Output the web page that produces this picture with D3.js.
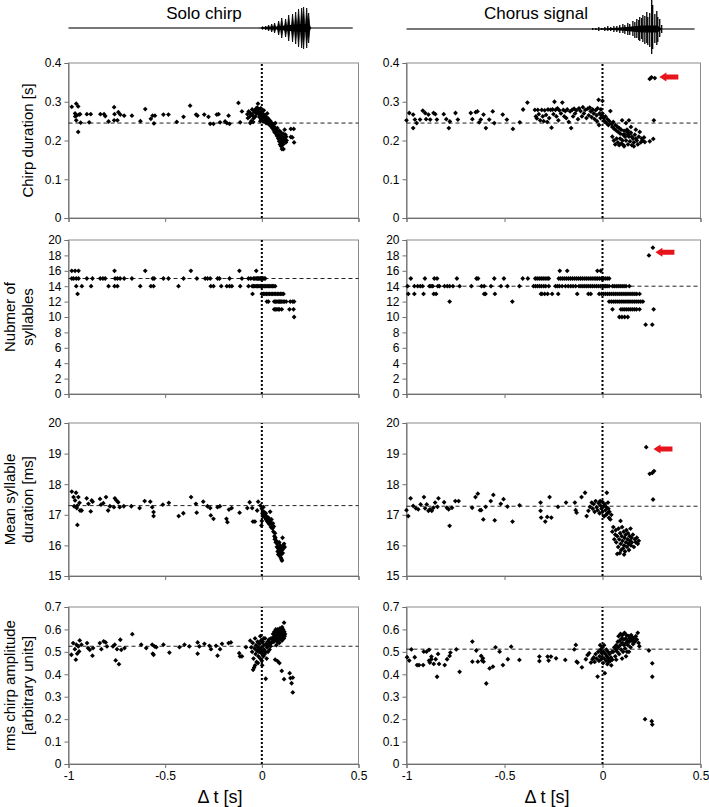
<!DOCTYPE html>
<html><head><meta charset="utf-8">
<script src="https://cdn.jsdelivr.net/npm/d3@7"></script>
<style>body{margin:0;background:#fff}svg{display:block;font-family:Arial,"Liberation Sans",sans-serif}</style>
</head><body><svg id="c" width="709" height="807"></svg>
<script>
// ---------------- DATA ----------------
const colTitles = ["Solo chirp", "Chorus signal"];
const rowLabels = [["Chirp duration [s]"], ["Nubmer of", "syllables"], ["Mean syllable", "duration [ms]"], ["rms chirp amplitude", "[arbitrary units]"]];
const xLabel = "\u0394 t [s]";
const xDomain = [-1, 0.5];
const xTicks = [-1, -0.5, 0, 0.5];
const xTickLabels = ["-1", "-0.5", "0", "0.5"];
const yDomains = [[0, 0.4], [0, 20], [15, 20], [0, 0.7]];
const yTicks = [[0, 0.1, 0.2, 0.3, 0.4], [0, 2, 4, 6, 8, 10, 12, 14, 16, 18, 20], [15, 16, 17, 18, 19, 20], [0, 0.1, 0.2, 0.3, 0.4, 0.5, 0.6, 0.7]];
const yTickLabels = [["0", "0.1", "0.2", "0.3", "0.4"], ["0", "2", "4", "6", "8", "10", "12", "14", "16", "18", "20"], ["15", "16", "17", "18", "19", "20"], ["0", "0.1", "0.2", "0.3", "0.4", "0.5", "0.6", "0.7"]];
const soloRef = [0.245, 15, 17.3, 0.525];
const chorusRef = [0.245, 14, 17.28, 0.512];
// arrows (tip position, data units) in chorus column, rows 0..2
const chorusArrows = [[0, 0.29, 0.364], [1, 0.27, 18.4], [2, 0.26, 19.15]];

// waveforms: [dt, amplitude]
const waveSpan = [-1, 0.47];
const soloWave = [[0.004,1.5],[0.02,2],[0.035,3],[0.051,4],[0.066,5],[0.087,7],[0.103,10],[0.123,9],[0.139,13],[0.159,14],[0.175,16],[0.19,19],[0.206,20],[0.216,21],[0.232,20],[0.242,15]];
const soloCore = [[-0.02,0],[0.05,1],[0.12,2.5],[0.2,4],[0.245,4],[0.255,0]];
const chorusWave = [[-0.05,1,1],[-0.034,1,1],[-0.019,2,2],[-0.004,1,1],[0.012,2,2],[0.027,3,2],[0.042,2,2],[0.058,3,3],[0.073,3,3],[0.088,4,4],[0.104,5,4],[0.114,4,5],[0.129,6,6],[0.139,5,6],[0.155,8,7],[0.165,7,9],[0.175,10,9],[0.185,9,11],[0.19,12,12],[0.2,11,10],[0.206,14,13],[0.216,13,15],[0.226,17,14],[0.231,12,16],[0.241,16,18],[0.251,29,25],[0.256,24,20],[0.267,15,14],[0.277,18,16],[0.282,12,13],[0.292,10,8],[0.302,4,4]];
const chorusCore = [[-0.06,0],[0.05,1],[0.12,2],[0.2,3.5],[0.28,3.5],[0.305,0]];

// Panel A: solo chirp duration [dt, s]
const soloDuration = [[-0.983,0.287],[-0.966,0.27],[-0.96,0.295],[-0.95,0.288],[-0.957,0.265],[-0.945,0.267],[-0.96,0.252],[-0.95,0.222],[-0.937,0.246],[-0.94,0.268],[-0.965,0.262],
[-0.905,0.268],[-0.885,0.268],[-0.893,0.247],[-0.835,0.268],[-0.816,0.268],[-0.81,0.263],[-0.793,0.249],[-0.764,0.286],[-0.762,0.268],[-0.764,0.252],[-0.747,0.252],[-0.742,0.273],[-0.732,0.267],[-0.712,0.264],
[-0.672,0.264],[-0.628,0.25],[-0.603,0.281],[-0.574,0.256],[-0.565,0.264],[-0.558,0.244],[-0.553,0.264],[-0.509,0.267],[-0.483,0.267],[-0.44,0.248],[-0.405,0.261],[-0.371,0.29],[-0.34,0.267],[-0.333,0.264],[-0.298,0.267],[-0.276,0.261],[-0.267,0.243],[-0.25,0.243],[-0.233,0.267],[-0.224,0.268],[-0.216,0.247],[-0.19,0.249],[-0.181,0.245],[-0.172,0.264],[-0.167,0.243],[-0.121,0.297],[-0.112,0.247],[-0.103,0.275],
[-0.075,0.268],[-0.072,0.258],[-0.068,0.275],[-0.062,0.262],[-0.058,0.27],[-0.055,0.25],[-0.05,0.28],[-0.047,0.265],[-0.043,0.257],[-0.04,0.273],[-0.036,0.278],[-0.033,0.262],[-0.03,0.282],[-0.027,0.27],[-0.024,0.285],[-0.02,0.276],[-0.017,0.268],[-0.014,0.28],[-0.012,0.26],[-0.01,0.272],[-0.007,0.266],[-0.005,0.283],[-0.003,0.255],[0.0,0.275],[0.003,0.262],[0.005,0.27],[0.007,0.249],[0.01,0.278],[-0.02,0.295],[-0.045,0.248],[-0.06,0.245],[-0.008,0.25],
[0.012,0.258],[0.015,0.265],[0.018,0.25],[0.02,0.262],[0.022,0.245],[0.025,0.255],[0.028,0.27],[0.03,0.248],[0.033,0.257],[0.035,0.242],[0.038,0.252],[0.04,0.247],[0.043,0.24],[0.045,0.25],[0.048,0.236],[0.05,0.245],[0.053,0.24],[0.055,0.232],[0.058,0.242],[0.06,0.228],[0.063,0.236],[0.065,0.222],[0.068,0.23],[0.07,0.245],[0.072,0.218],[0.075,0.225],[0.078,0.212],[0.08,0.232],
[0.082,0.22],[0.085,0.205],[0.087,0.215],[0.09,0.198],[0.092,0.21],[0.094,0.19],[0.096,0.222],[0.098,0.2],[0.1,0.185],[0.1,0.212],[0.102,0.195],[0.104,0.178],[0.106,0.205],[0.108,0.2],[0.11,0.218],[0.11,0.19],[0.112,0.178],[0.114,0.208],[0.116,0.198],[0.118,0.228],[0.12,0.203],[0.122,0.215],[0.124,0.195],[0.126,0.21],[0.128,0.2],[0.09,0.225],
[0.15,0.23],[0.165,0.23],[0.15,0.209],[0.167,0.195],[0.158,0.208]];

// Panel B: solo number of syllables [count, [dt...]]
const soloSyllables = [
[16,[-0.983,-0.966,-0.948,-0.762,-0.603,-0.367,-0.116,-0.029]],
[15,[-0.983,-0.974,-0.96,-0.948,-0.905,-0.876,-0.836,-0.822,-0.81,-0.759,-0.747,-0.733,-0.712,-0.672,-0.564,-0.557,-0.509,-0.483,-0.405,-0.336,-0.293,-0.281,-0.267,-0.229,-0.219,-0.167,-0.103,-0.069,-0.057,-0.043,-0.036,-0.029,-0.022,-0.017,-0.01,-0.005,0.0,0.005,0.011,0.017]],
[14,[-0.96,-0.931,-0.883,-0.793,-0.762,-0.747,-0.629,-0.574,-0.56,-0.431,-0.264,-0.25,-0.21,-0.181,-0.167,-0.155,-0.112,-0.069,-0.05,-0.043,-0.036,-0.029,-0.022,-0.015,-0.008,-0.001,0.006,0.013,0.02,0.027,0.034,0.041,0.048,0.055,0.062,0.069]],
[13,[-0.953,-0.048,0.0,0.008,0.016,0.024,0.032,0.04,0.048,0.056,0.064,0.072,0.08,0.088,0.096,0.104,0.112]],
[12,[0.026,0.034,0.064,0.071,0.078,0.085,0.091,0.097,0.103,0.11,0.116,0.126,0.147,0.16,0.167]],
[11,[0.064,0.071,0.078,0.085,0.091,0.103,0.143,0.164]],
[10,[0.167]]];

// Panel C: solo mean syllable duration [dt, ms]
const soloSylDur = [[-0.983,17.76],[-0.961,17.72],[-0.974,17.58],[-0.966,17.47],[-0.954,17.3],[-0.943,17.39],[-0.949,17.58],[-0.957,17.22],[-0.94,17.14],[-0.954,16.67],[-0.932,17.14],[-0.971,17.28],
[-0.906,17.54],[-0.897,17.36],[-0.885,17.11],[-0.88,17.47],[-0.875,17.43],[-0.837,17.52],[-0.832,17.33],[-0.82,17.38],[-0.806,17.58],[-0.795,17.14],[-0.786,17.28],[-0.765,17.25],[-0.76,17.54],[-0.752,17.47],[-0.743,17.41],[-0.735,17.25],[-0.714,17.28],[-0.675,17.28],[-0.632,17.22],[-0.606,17.45],[-0.577,17.43],[-0.567,17.25],[-0.56,17.09],[-0.56,16.96],[-0.512,17.33],[-0.481,17.39],[-0.43,16.96],[-0.406,17.05],[-0.366,17.58],[-0.341,17.36],[-0.337,17.07],[-0.303,17.43],[-0.281,17.28],[-0.267,17.22],[-0.264,16.98],[-0.25,16.87],[-0.229,17.25],[-0.217,17.28],[-0.183,16.87],[-0.178,16.76],[-0.17,17.17],[-0.156,17.22],[-0.115,17.07],[-0.075,17.22],[-0.063,17.41],[-0.05,17.22],[-0.046,16.78],[-0.036,16.78],[-0.024,17.14],[-0.019,17.43],[-0.007,17.3],
[0.0,17.2],[0.003,17.05],[0.005,16.95],[0.008,17.25],[0.01,17.1],[0.012,16.98],[0.015,17.0],[0.017,16.9],[0.02,17.05],[0.022,16.85],[0.025,16.95],[0.027,16.8],[0.03,16.88],[0.032,16.75],[0.035,16.9],[0.038,16.7],[0.04,16.82],[0.043,17.1],[0.045,16.75],[0.047,16.6],[0.05,16.85],[0.052,16.68],[0.055,16.55],[0.057,16.72],[0.06,16.45],[0.062,16.62],[0.0,16.8],[-0.002,16.65],[0.065,16.3],[0.068,16.4],
[0.067,16.2],[0.07,16.25],[0.072,16.1],[0.075,16.15],[0.078,15.95],[0.08,16.05],[0.082,15.8],[0.085,15.9],[0.085,15.7],[0.088,15.85],[0.09,15.75],[0.092,15.95],[0.094,15.65],[0.096,15.8],[0.098,15.6],[0.1,15.9],[0.1,15.7],[0.102,15.55],[0.105,15.85],[0.107,16.25],[0.108,15.75],[0.11,16.0],[0.112,15.9],[0.115,16.05],[0.118,15.95],[0.104,15.5],[0.09,16.1],[0.095,16.0]];

// Panel D: solo rms amplitude [dt, a.u.]
const soloRms = [[-0.985,0.487],[-0.976,0.539],[-0.967,0.512],[-0.962,0.465],[-0.955,0.492],[-0.949,0.524],[-0.942,0.551],[-0.933,0.532],[-0.959,0.532],[-0.945,0.502],
[-0.904,0.539],[-0.899,0.517],[-0.89,0.509],[-0.876,0.483],[-0.873,0.517],[-0.838,0.539],[-0.83,0.512],[-0.818,0.547],[-0.808,0.542],[-0.801,0.524],[-0.77,0.524],[-0.761,0.532],[-0.756,0.462],[-0.749,0.512],[-0.739,0.445],[-0.732,0.554],[-0.727,0.509],[-0.71,0.517],[-0.67,0.579],[-0.624,0.532],[-0.598,0.517],[-0.567,0.532],[-0.564,0.492],[-0.56,0.487],[-0.555,0.524],[-0.546,0.521],[-0.509,0.532],[-0.478,0.497],[-0.426,0.521],[-0.4,0.532],[-0.375,0.524],[-0.332,0.542],[-0.332,0.492],[-0.323,0.524],[-0.297,0.536],[-0.271,0.527],[-0.263,0.512],[-0.237,0.527],[-0.229,0.483],[-0.216,0.512],[-0.206,0.536],[-0.172,0.539],[-0.16,0.542],[-0.117,0.494],[-0.113,0.48],[-0.103,0.48],[-0.082,0.521],
[-0.06,0.55],[-0.055,0.52],[-0.05,0.5],[-0.047,0.54],[-0.043,0.47],[-0.04,0.43],[-0.037,0.515],[-0.035,0.56],[-0.032,0.49],[-0.03,0.53],[-0.027,0.455],[-0.025,0.505],[-0.022,0.545],[-0.02,0.52],[-0.018,0.48],[-0.015,0.5],[-0.012,0.535],[-0.01,0.51],[-0.008,0.47],[-0.005,0.55],[-0.003,0.495],[0.0,0.52],[0.002,0.44],[0.003,0.5],[0.005,0.545],[0.008,0.48],[0.01,0.53],[0.012,0.51],[0.015,0.49],[0.017,0.56],[0.02,0.5],[0.022,0.535],[0.025,0.47],[0.027,0.52],[0.03,0.545],[0.032,0.5],[0.035,0.53],[0.038,0.555],[0.04,0.51],[0.043,0.54],[0.045,0.525],[0.048,0.56],[0.05,0.54],[-0.045,0.42],[-0.035,0.44],[-0.02,0.45],[0.0,0.46],[0.02,0.38],[-0.008,0.57],[0.01,0.56],
[0.055,0.555],[0.058,0.58],[0.06,0.565],[0.062,0.545],[0.065,0.59],[0.067,0.57],[0.07,0.555],[0.072,0.6],[0.074,0.575],[0.076,0.56],[0.078,0.585],[0.08,0.545],[0.082,0.6],[0.084,0.57],[0.086,0.555],[0.088,0.59],[0.09,0.575],[0.092,0.56],[0.094,0.605],[0.096,0.585],[0.098,0.565],[0.1,0.595],[0.102,0.575],[0.104,0.55],[0.106,0.59],[0.108,0.57],[0.11,0.6],[0.112,0.58],[0.114,0.56],[0.116,0.59],[0.118,0.57],[0.12,0.58],[0.105,0.61],[0.115,0.63],[0.09,0.54],[0.1,0.555],[0.075,0.53],
[0.069,0.465],[0.081,0.459],[0.091,0.45],[0.103,0.415],[0.115,0.378],[0.144,0.405],[0.148,0.383],[0.154,0.36],[0.16,0.385],[0.16,0.319]];

// Panel E: chorus chirp duration
const chorusDuration = [[-1.0,0.252],[-0.986,0.271],[-0.966,0.267],[-0.966,0.232],[-0.957,0.254],[-0.948,0.245],[-0.931,0.254],[-0.917,0.277],[-0.905,0.271],[-0.9,0.255],[-0.888,0.267],[-0.879,0.254],[-0.862,0.271],[-0.853,0.268],[-0.845,0.254],[-0.81,0.268],[-0.797,0.255],[-0.784,0.232],[-0.779,0.249],[-0.75,0.271],[-0.738,0.254],[-0.672,0.271],[-0.664,0.255],[-0.647,0.273],[-0.638,0.275],[-0.629,0.247],[-0.621,0.254],[-0.607,0.267],[-0.595,0.232],[-0.578,0.254],[-0.56,0.275],[-0.552,0.245],[-0.509,0.267],[-0.488,0.254],[-0.457,0.23],[-0.422,0.247],[-0.405,0.28],[-0.383,0.298],
[-0.345,0.279],[-0.34,0.262],[-0.335,0.257],[-0.33,0.279],[-0.325,0.268],[-0.318,0.252],[-0.31,0.279],[-0.305,0.262],[-0.3,0.25],[-0.295,0.278],[-0.288,0.266],[-0.282,0.248],[-0.278,0.28],[-0.272,0.258],[-0.265,0.279],[-0.26,0.233],[-0.255,0.28],[-0.25,0.268],[-0.245,0.3],[-0.24,0.279],[-0.235,0.262],[-0.23,0.283],[-0.225,0.252],[-0.22,0.278],[-0.212,0.27],[-0.205,0.298],[-0.2,0.279],[-0.195,0.262],[-0.19,0.276],[-0.185,0.258],[-0.18,0.28],[-0.172,0.248],[-0.165,0.275],[-0.16,0.232],[-0.155,0.279],[-0.15,0.262],[-0.145,0.282],[-0.14,0.27],[-0.133,0.278],[-0.125,0.255],[-0.12,0.283],[-0.112,0.276],[-0.105,0.262],[-0.1,0.286],[-0.095,0.27],[-0.088,0.279],[-0.082,0.258],[-0.075,0.282],[-0.07,0.265],[-0.065,0.285],[-0.06,0.275],[-0.055,0.26],[-0.05,0.28],[-0.045,0.27],[-0.04,0.255],[-0.035,0.278],[-0.03,0.265],[-0.025,0.283],[-0.02,0.305],[-0.015,0.27],[-0.01,0.258],[-0.008,0.28],[-0.005,0.265],[0.0,0.302],[0.0,0.27],[-0.028,0.25],[-0.018,0.24],[0.005,0.26],
[0.005,0.258],[0.01,0.25],[0.015,0.262],[0.02,0.245],[0.025,0.255],[0.03,0.24],[0.035,0.25],[0.04,0.276],[0.045,0.243],[0.05,0.235],[0.055,0.248],[0.06,0.23],[0.065,0.24],[0.07,0.226],[0.075,0.236],[0.08,0.222],[0.085,0.232],[0.09,0.218],[0.095,0.228],[0.1,0.252],[0.105,0.215],[0.11,0.225],[0.115,0.21],[0.12,0.245],[0.125,0.222],[0.13,0.215],[0.135,0.252],[0.14,0.218],
[0.05,0.21],[0.058,0.2],[0.065,0.19],[0.072,0.205],[0.078,0.195],[0.085,0.188],[0.09,0.205],[0.096,0.192],[0.102,0.2],[0.108,0.188],[0.114,0.215],[0.12,0.2],[0.125,0.228],[0.13,0.19],[0.135,0.21],[0.14,0.198],[0.145,0.22],[0.15,0.188],[0.155,0.205],[0.16,0.195],[0.165,0.215],[0.17,0.228],[0.175,0.2],[0.18,0.19],[0.185,0.21],[0.19,0.222],[0.195,0.195],[0.2,0.205],[0.205,0.2],[0.212,0.208],[0.216,0.196],[0.16,0.185],[0.145,0.235],[0.11,0.185],[0.13,0.225],[0.15,0.21],[0.17,0.205],
[0.241,0.198],[0.259,0.204],[0.262,0.252],[0.241,0.359],[0.25,0.363],[0.267,0.361]];

// Panel F: chorus number of syllables
const chorusSyllables = [
[19,[0.257]],[18,[0.237]],
[16,[-0.218,-0.18,-0.026,-0.009]],
[15,[-0.978,-0.906,-0.858,-0.844,-0.743,-0.643,-0.635,-0.552,-0.503,-0.407,-0.381,-0.343,-0.333,-0.323,-0.313,-0.303,-0.293,-0.283,-0.274,-0.223,-0.213,-0.203,-0.193,-0.183,-0.173,-0.163,-0.153,-0.143,-0.133,-0.123,-0.113,-0.103,-0.093,-0.083,-0.073,-0.063,-0.053,-0.043,-0.034,-0.026,-0.016,-0.006,0.004,0.014,0.024,0.034]],
[14,[-0.995,-0.96,-0.943,-0.93,-0.918,-0.883,-0.875,-0.866,-0.84,-0.832,-0.806,-0.792,-0.78,-0.763,-0.729,-0.669,-0.617,-0.604,-0.569,-0.518,-0.485,-0.424,-0.352,-0.342,-0.332,-0.322,-0.312,-0.3,-0.29,-0.274,-0.24,-0.23,-0.22,-0.206,-0.189,-0.175,-0.162,-0.15,-0.137,-0.12,-0.11,-0.1,-0.09,-0.08,-0.07,-0.06,-0.05,-0.04,-0.03,-0.02,-0.01,0.0,0.008,0.016,0.024,0.034,0.051,0.06,0.07,0.08,0.09,0.1,0.11,0.12,0.137]],
[13,[-0.991,-0.96,-0.913,-0.861,-0.849,-0.604,-0.597,-0.549,-0.314,-0.309,-0.295,-0.28,-0.257,-0.226,-0.129,-0.072,-0.06,-0.017,-0.005,0.005,0.015,0.025,0.035,0.045,0.055,0.065,0.075,0.085,0.095,0.105,0.115,0.125,0.135,0.145,0.155,0.165,0.175,0.189]],
[12,[-0.78,-0.46,0.034,0.045,0.055,0.065,0.075,0.085,0.095,0.105,0.115,0.125,0.135,0.145,0.155,0.165,0.175,0.185,0.195,0.206]],
[11,[0.051,0.094,0.104,0.114,0.124,0.134,0.144,0.154,0.164,0.174,0.189,0.261]],
[10,[0.086,0.099,0.113,0.129]],
[9,[0.22,0.254]]];

// Panel G: chorus mean syllable duration
const chorusSylDur = [[-1.0,17.15],[-0.991,16.96],[-0.979,17.54],[-0.966,17.29],[-0.952,17.21],[-0.94,17.18],[-0.928,17.34],[-0.911,17.58],[-0.905,17.21],[-0.897,17.34],[-0.888,17.13],[-0.88,17.18],[-0.871,17.13],[-0.863,17.23],[-0.854,17.4],[-0.842,17.26],[-0.837,17.54],[-0.808,17.41],[-0.794,17.23],[-0.785,17.18],[-0.78,16.64],[-0.768,17.23],[-0.751,17.45],[-0.734,17.45],[-0.665,17.23],[-0.648,17.58],[-0.636,17.69],[-0.625,17.15],[-0.619,17.15],[-0.608,16.85],[-0.596,17.26],[-0.57,17.45],[-0.557,17.65],[-0.55,16.82],[-0.519,17.36],[-0.505,17.51],[-0.485,17.27],[-0.459,16.78],[-0.423,17.31],[-0.316,17.4],[-0.316,17.13],[-0.313,16.91],[-0.292,16.78],[-0.282,16.93],[-0.27,17.58],[-0.261,16.91],[-0.227,17.26],[-0.186,17.4],[-0.141,17.4],[-0.137,17.15],[-0.132,17.07],[-0.107,17.58],[-0.089,17.72],[-0.081,16.96],[-0.072,17.13],[-0.064,17.26],[-0.055,17.4],
[-0.05,17.2],[-0.045,17.35],[-0.04,17.1],[-0.035,17.45],[-0.03,17.25],[-0.025,17.15],[-0.02,17.38],[-0.015,17.05],[-0.01,17.3],[-0.005,17.2],[0.0,17.42],[0.0,17.1],[0.005,17.28],[0.008,16.95],[0.012,17.35],[0.015,17.15],[0.018,17.0],[0.02,17.25],[0.022,17.72],[0.025,17.05],[0.028,17.4],[0.03,17.2],[0.033,16.9],[0.035,17.1],[0.04,16.85],[-0.012,17.45],[0.045,17.0],
[0.05,16.45],[0.055,16.6],[0.06,16.2],[0.065,16.35],[0.068,16.5],[0.07,16.1],[0.075,16.3],[0.08,15.95],[0.082,16.55],[0.085,16.2],[0.088,15.75],[0.09,16.4],[0.093,16.05],[0.095,15.85],[0.098,16.3],[0.1,16.6],[0.102,16.15],[0.105,15.9],[0.108,16.45],[0.11,16.0],[0.112,16.25],[0.115,15.8],[0.118,16.35],[0.12,16.1],[0.122,16.5],[0.125,15.95],[0.128,16.2],[0.13,16.4],[0.133,16.05],[0.135,15.85],[0.138,16.3],[0.14,16.15],[0.143,16.55],[0.145,16.0],[0.148,16.25],[0.15,16.1],[0.155,16.35],[0.16,15.95],[0.165,16.2],[0.17,16.1],[0.175,16.25],[0.18,16.05],[0.185,16.15],[0.092,16.8],[0.075,15.72],[0.11,15.7],
[0.223,19.21],[0.241,18.34],[0.254,18.37],[0.263,18.43],[0.258,17.5]];

// Panel H: chorus rms amplitude
const chorusRms = [[-0.997,0.476],[-0.986,0.461],[-0.975,0.511],[-0.958,0.476],[-0.946,0.441],[-0.936,0.441],[-0.915,0.441],[-0.912,0.501],[-0.898,0.501],[-0.885,0.509],[-0.885,0.461],[-0.881,0.452],[-0.873,0.467],[-0.873,0.479],[-0.861,0.446],[-0.851,0.467],[-0.844,0.389],[-0.839,0.491],[-0.834,0.446],[-0.805,0.441],[-0.793,0.467],[-0.78,0.482],[-0.776,0.497],[-0.746,0.511],[-0.729,0.411],[-0.664,0.546],[-0.664,0.456],[-0.644,0.506],[-0.636,0.456],[-0.619,0.482],[-0.614,0.461],[-0.61,0.471],[-0.607,0.456],[-0.593,0.359],[-0.576,0.426],[-0.559,0.434],[-0.546,0.52],[-0.525,0.501],[-0.508,0.441],[-0.483,0.467],[-0.466,0.523],[-0.424,0.464],[-0.322,0.479],[-0.322,0.459],[-0.28,0.479],[-0.275,0.461],[-0.263,0.479],[-0.237,0.471],[-0.19,0.464],[-0.144,0.511],[-0.136,0.531],[-0.132,0.456],[-0.127,0.452],[-0.105,0.431],[-0.085,0.467],[-0.076,0.486],[-0.068,0.494],[-0.059,0.452],[-0.051,0.467],
[-0.045,0.475],[-0.04,0.455],[-0.035,0.49],[-0.03,0.47],[-0.025,0.39],[-0.022,0.5],[-0.018,0.46],[-0.015,0.48],[-0.01,0.51],[-0.008,0.465],[-0.005,0.495],[0.0,0.52],[0.0,0.475],[0.003,0.45],[0.006,0.5],[0.008,0.53],[0.01,0.47],[0.012,0.405],[0.015,0.49],[0.018,0.46],[0.02,0.51],[0.023,0.48],[0.025,0.445],[0.028,0.5],[0.03,0.47],[0.033,0.455],[0.036,0.49],[0.04,0.46],[0.043,0.475],[0.045,0.44],[0.048,0.5],[0.05,0.465],[-0.012,0.53],
[0.055,0.5],[0.06,0.52],[0.065,0.48],[0.068,0.51],[0.07,0.53],[0.075,0.5],[0.078,0.545],[0.08,0.52],[0.082,0.57],[0.085,0.49],[0.088,0.55],[0.09,0.53],[0.092,0.58],[0.095,0.51],[0.098,0.56],[0.1,0.54],[0.102,0.575],[0.105,0.5],[0.108,0.555],[0.11,0.53],[0.112,0.585],[0.115,0.515],[0.118,0.56],[0.12,0.54],[0.122,0.575],[0.125,0.5],[0.128,0.55],[0.13,0.53],[0.133,0.57],[0.136,0.545],[0.14,0.56],[0.143,0.52],[0.146,0.575],[0.15,0.55],[0.153,0.565],[0.156,0.535],[0.16,0.56],[0.165,0.545],[0.17,0.57],[0.175,0.555],[0.18,0.585],[0.184,0.54],[0.188,0.525],[0.1,0.47],[0.12,0.48],[0.135,0.5],[0.07,0.465],
[0.217,0.2],[0.251,0.191],[0.254,0.176],[0.254,0.449],[0.254,0.389],[0.237,0.506]];

// ---------------- LAYOUT ----------------
const colX = [[68.5, 358.5], [406.5, 700.5]];
const rowY = [[63, 218], [240, 394], [423, 576], [607, 764]];
const waveBase = [28, 29];
const FONT = 'Arial, "Liberation Sans", sans-serif';

const svg = d3.select("#c");
svg.append("rect").attr("width", 709).attr("height", 807).attr("fill", "#fff");

const expand = levels => levels.flatMap(([v, dts]) => dts.map(d => [d, v]));
const panels = [
  [soloDuration, expand(soloSyllables), soloSylDur, soloRms],
  [chorusDuration, expand(chorusSyllables), chorusSylDur, chorusRms]
];
const refs = [soloRef, chorusRef];

const diamond = { draw(ctx, size) { const r = Math.sqrt(size / 2); ctx.moveTo(0, -r); ctx.lineTo(r, 0); ctx.lineTo(0, r); ctx.lineTo(-r, 0); ctx.closePath(); } };
const sym = d3.symbol().type(diamond).size(11.5);

for (let c = 0; c < 2; c++) {
  const x = d3.scaleLinear().domain(xDomain).range(colX[c]);
  // waveform
  const wy = d3.scaleLinear().domain([-30, 30]).range([waveBase[c] + 30, waveBase[c] - 30]);
  const wg = svg.append("g");
  wg.append("line").attr("x1", x(waveSpan[0])).attr("x2", x(waveSpan[1]))
    .attr("y1", wy(0)).attr("y2", wy(0)).attr("stroke", "#4a4a4a").attr("stroke-width", 1.5);
  const core = c === 0 ? soloCore : chorusCore;
  wg.append("path").datum(core)
    .attr("d", d3.area().x(d => x(d[0])).y0(d => wy(-d[1])).y1(d => wy(d[1])).curve(d3.curveLinear))
    .attr("fill", "#000");
  if (c === 0) {
    wg.selectAll("path.syl").data(soloWave).join("path").attr("class", "syl")
      .attr("d", d => `M${x(d[0]) - 1.3},${wy(0)}L${x(d[0])},${wy(d[1])}L${x(d[0]) + 1.3},${wy(0)}L${x(d[0])},${wy(-d[1])}Z`)
      .attr("fill", "#000").attr("stroke", "#000").attr("stroke-width", 0.8);
  } else {
    wg.selectAll("line.sp").data(chorusWave).join("line").attr("class", "sp")
      .attr("x1", d => x(d[0])).attr("x2", d => x(d[0]))
      .attr("y1", d => wy(d[1])).attr("y2", d => wy(-d[2]))
      .attr("stroke", "#000").attr("stroke-width", 1.3);
  }
  // title
  svg.append("text").attr("x", c === 0 ? 204 : 536).attr("y", 19).attr("text-anchor", "middle")
    .attr("font-size", 17).attr("font-family", FONT).text(colTitles[c]);

  for (let r = 0; r < 4; r++) {
    const y = d3.scaleLinear().domain(yDomains[r]).range([rowY[r][1], rowY[r][0]]);
    const g = svg.append("g");
    g.append("rect").attr("x", colX[c][0]).attr("y", rowY[r][0])
      .attr("width", colX[c][1] - colX[c][0]).attr("height", rowY[r][1] - rowY[r][0])
      .attr("fill", "none").attr("stroke", "#8a8a8a").attr("stroke-width", 1);
    const ya = g.append("g").attr("transform", `translate(${colX[c][0]},0)`)
      .call(d3.axisLeft(y).tickValues(yTicks[r]).tickSize(4).tickPadding(3).tickFormat((d, i) => yTickLabels[r][i]));
    const xa = g.append("g").attr("transform", `translate(0,${rowY[r][1]})`)
      .call(d3.axisBottom(x).tickValues(xTicks).tickSize(4).tickPadding(3).tickFormat((d, i) => r === 3 ? xTickLabels[i] : ""));
    [ya, xa].forEach(a => {
      a.select(".domain").attr("stroke", "#707070");
      a.selectAll(".tick line").attr("stroke", "#707070");
      a.selectAll("text").attr("font-size", 12).attr("font-family", FONT).attr("fill", "#000");
    });
    g.append("line").attr("x1", x(xDomain[0])).attr("x2", x(xDomain[1]))
      .attr("y1", y(refs[c][r])).attr("y2", y(refs[c][r]))
      .attr("stroke", "#222").attr("stroke-width", 1).attr("stroke-dasharray", "4,3");
    g.append("line").attr("x1", x(0)).attr("x2", x(0))
      .attr("y1", y(yDomains[r][0])).attr("y2", y(yDomains[r][1]))
      .attr("stroke", "#000").attr("stroke-width", 2).attr("stroke-dasharray", "2,2");
    g.selectAll("path.pt").data(panels[c][r]).join("path").attr("class", "pt")
      .attr("transform", d => `translate(${x(d[0])},${y(d[1])})`)
      .attr("d", sym).attr("fill", "#000");
    if (c === 1) {
      chorusArrows.filter(a => a[0] === r).forEach(a => {
        const tx = x(a[1]), ty = y(a[2]);
        g.append("path")
          .attr("d", `M${tx},${ty}L${tx + 7},${ty - 4.5}L${tx + 7},${ty - 2.5}L${tx + 19},${ty - 2.5}L${tx + 19},${ty + 2.5}L${tx + 7},${ty + 2.5}L${tx + 7},${ty + 4.5}Z`)
          .attr("fill", "#e8141b");
      });
    }
    if (c === 0) {
      const lines = rowLabels[r];
      const cy = (rowY[r][0] + rowY[r][1]) / 2;
      const xs = lines.length === 1 ? [27] : [9, 27];
      lines.forEach((t, i) => {
        svg.append("text").attr("transform", `translate(${xs[i]},${cy}) rotate(-90)`)
          .attr("text-anchor", "middle").attr("dominant-baseline", "central")
          .attr("font-size", 15).attr("font-family", FONT).text(t);
      });
    }
  }
  svg.append("text").attr("x", c === 0 ? 220 : 547).attr("y", 803).attr("text-anchor", "middle")
    .attr("font-size", 18).attr("font-family", FONT).text(xLabel);
}
</script></body></html>
